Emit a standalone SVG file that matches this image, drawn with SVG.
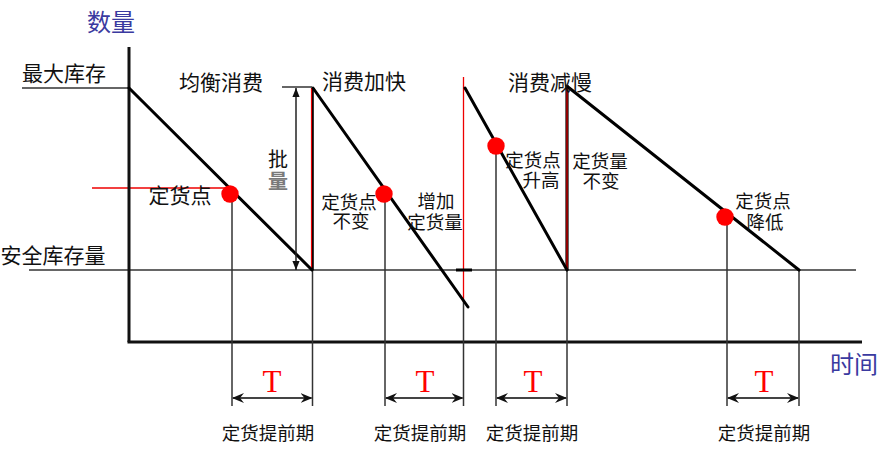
<svg xmlns="http://www.w3.org/2000/svg" width="892" height="450" viewBox="0 0 892 450">
<defs>
<style>
text{font-family:"Noto Sans CJK SC","Liberation Sans",sans-serif;dominant-baseline:central;text-anchor:middle;fill:#111}
.lab{font-size:21px}
.sm{font-size:18.5px}
.ax{font-size:24px;fill:#3a3aa0}
.T{font-family:"Liberation Serif","Noto Serif",serif;font-size:31px;fill:#ff0000;dominant-baseline:auto}
.axis{stroke:#111;stroke-width:3;fill:none}
.saw{stroke:#000;stroke-width:3;fill:none;stroke-linecap:round}
.thin{stroke:#333;stroke-width:1.5;fill:none}
.red{stroke:#ee0000;stroke-width:1.3;fill:none}
.dim{stroke:#444;stroke-width:2;fill:none;marker-start:url(#ah);marker-end:url(#ah)}
.dot{fill:#ff0000}
</style>
<marker id="ah" viewBox="0 0 12 10" refX="11" refY="5" markerWidth="12" markerHeight="10" markerUnits="userSpaceOnUse" orient="auto-start-reverse">
<path d="M0,0 L12,5 L0,10 L4,5 z" fill="#111"/>
</marker>
<marker id="tri" viewBox="0 0 10 10" refX="10" refY="5" markerWidth="9" markerHeight="9" markerUnits="userSpaceOnUse" orient="auto-start-reverse">
<path d="M0,1 L10,5 L0,9 z" fill="#111"/>
</marker>
</defs>
<rect width="892" height="450" fill="#fff"/>

<g id="connectors">
<line class="thin" x1="22" y1="88" x2="129" y2="88"/>
<line class="thin" x1="29" y1="270" x2="856" y2="270"/>
<line class="red" x1="92" y1="188" x2="230" y2="188"/>
<line class="axis" x1="129" y1="47" x2="129" y2="342"/>
<line class="axis" x1="127.5" y1="342" x2="862" y2="342"/>
<line class="thin" x1="232" y1="194" x2="232" y2="406"/>
<line class="thin" x1="312.5" y1="270" x2="312.5" y2="406"/>
<line class="thin" x1="385" y1="194" x2="385" y2="406"/>
<line class="thin" x1="463.5" y1="300" x2="463.5" y2="406"/>
<line class="thin" x1="496" y1="146" x2="496" y2="406"/>
<line class="thin" x1="567" y1="270" x2="567" y2="406"/>
<line class="thin" x1="727" y1="217" x2="727" y2="406"/>
<line class="thin" x1="799" y1="270" x2="799" y2="406"/>
<line stroke="#000" stroke-width="2" x1="312.8" y1="88" x2="312.8" y2="270"/>
<line stroke="#ee0000" stroke-width="1.2" x1="311.5" y1="88" x2="311.5" y2="270"/>
<line stroke="#ee0000" stroke-width="1.3" x1="463.5" y1="77" x2="463.5" y2="302"/>
<line stroke="#000" stroke-width="3" x1="456" y1="270" x2="472" y2="270"/>
<line stroke="#000" stroke-width="3.2" x1="567" y1="85" x2="567" y2="270"/>
<line stroke="#ee0000" stroke-width="1.2" x1="567" y1="85" x2="567" y2="270"/>
<line class="saw" x1="129" y1="88" x2="312" y2="270"/>
<line class="saw" x1="313" y1="88" x2="468" y2="307"/>
<line class="saw" x1="465" y1="88" x2="567" y2="270"/>
<line class="saw" x1="568" y1="87" x2="799" y2="270"/>
<line class="thin" x1="282" y1="87" x2="312" y2="87"/>
<line stroke="#222" stroke-width="1.5" x1="296" y1="88" x2="296" y2="270" marker-start="url(#tri)" marker-end="url(#tri)"/>
<line class="dim" x1="233" y1="398" x2="311.5" y2="398"/>
<line class="dim" x1="386" y1="398" x2="462.5" y2="398"/>
<line class="dim" x1="497" y1="398" x2="566" y2="398"/>
<line class="dim" x1="728" y1="398" x2="798" y2="398"/>
</g>

<g id="reorder-points">
<circle class="dot" cx="230" cy="194" r="8.7"/>
<circle class="dot" cx="384" cy="194" r="8.7"/>
<circle class="dot" cx="496" cy="146" r="8.7"/>
<circle class="dot" cx="725" cy="217" r="8.7"/>
</g>

<g id="axis-labels">
<text class="ax" x="111" y="20">数量</text>
<text class="ax" x="854" y="362">时间</text>
</g>

<g id="level-labels">
<text class="lab" x="64" y="72">最大库存</text>
<text class="lab" x="53" y="254">安全库存量</text>
<text class="lab" x="180" y="194">定货点</text>
</g>

<g id="phase-labels">
<text class="lab" x="221" y="81">均衡消费</text>
<text class="lab" x="364" y="80">消费加快</text>
<text class="lab" x="550" y="81">消费减慢</text>
</g>

<g id="batch-label">
<text style="font-size:20px"><tspan x="278" y="158">批</tspan><tspan x="278" y="180" style="fill:#7a7a7a;font-weight:bold">量</tspan></text>
</g>

<g id="notes">
<text class="sm"><tspan x="349" y="201">定货点</tspan><tspan x="351" y="220">不变</tspan></text>
<text class="sm"><tspan x="436" y="200">增加</tspan><tspan x="435" y="221">定货量</tspan></text>
<text class="sm"><tspan x="533" y="159">定货点</tspan><tspan x="541" y="179">升高</tspan></text>
<text class="sm"><tspan x="600" y="160">定货量</tspan><tspan x="601" y="180">不变</tspan></text>
<text class="sm"><tspan x="763" y="200">定货点</tspan><tspan x="765" y="221">降低</tspan></text>
</g>

<g id="lead-times">
<text class="T" x="272" y="392">T</text>
<text class="T" x="425" y="392">T</text>
<text class="T" x="533" y="392">T</text>
<text class="T" x="764" y="392">T</text>
<text class="sm" x="268" y="432">定货提前期</text>
<text class="sm" x="420" y="432">定货提前期</text>
<text class="sm" x="532" y="432">定货提前期</text>
<text class="sm" x="764" y="432">定货提前期</text>
</g>
</svg>
